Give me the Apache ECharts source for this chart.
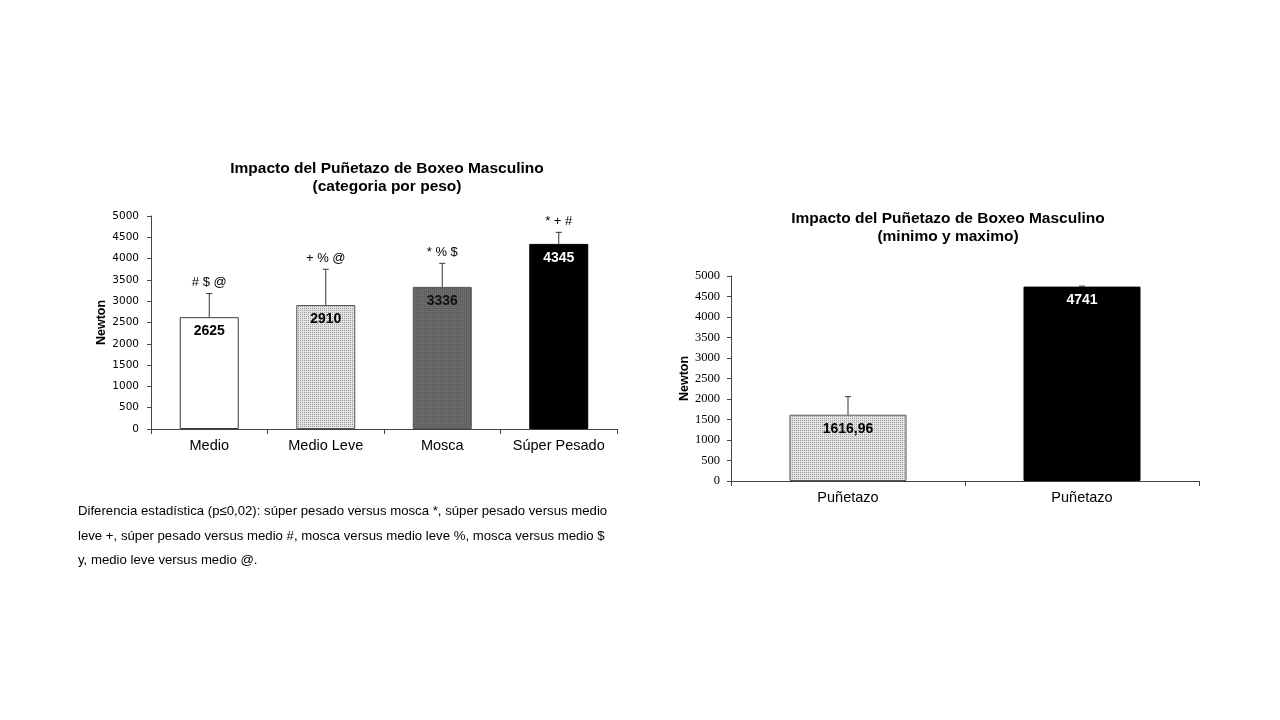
<!DOCTYPE html>
<html><head><meta charset="utf-8">
<script src="https://cdn.jsdelivr.net/npm/echarts@6/dist/echarts.min.js"></script>
<style>html,body{margin:0;padding:0;background:#fff}#c{width:1280px;height:720px}</style>
</head><body><div id="c"></div>
<script>
// ---- data ----
const catsLeft = ['Medio', 'Medio Leve', 'Mosca', 'Súper Pesado'];
const valsLeft = [2625, 2910, 3336, 4345];
const errLeft = [555, 840, 554, 272];
const sigLeft = ['# $ @', '+ % @', '* % $', '* + #'];
const labelsLeft = ['2625', '2910', '3336', '4345'];

const catsRight = ['Puñetazo', 'Puñetazo'];
const valsRight = [1616.96, 4741];
const errRight = [440, 12];
const labelsRight = ['1616,96', '4741'];

const yTicks = [0, 500, 1000, 1500, 2000, 2500, 3000, 3500, 4000, 4500, 5000];

const SANS = '"Liberation Sans", Arial, sans-serif';

function pattern(bg, dot) {
  const c = document.createElement('canvas');
  c.width = 4; c.height = 4;
  const g = c.getContext('2d');
  g.fillStyle = bg; g.fillRect(0, 0, 4, 4);
  g.fillStyle = dot;
  g.fillRect(0, 0, 1, 1); g.fillRect(2, 2, 1, 1);
  g.fillRect(2, 0, 1, 1); g.fillRect(0, 2, 1, 1);
  return { image: c, repeat: 'repeat' };
}
const light = pattern('#e4e4e4', '#9a9a9a');
const dark = pattern('#6b6b6b', '#575757');

const styleLeft = [
  { color: '#ffffff', borderColor: '#3a3a3a', borderWidth: 1 },
  { color: light, borderColor: '#555', borderWidth: 1 },
  { color: dark, borderColor: '#555', borderWidth: 1 },
  { color: '#000000', borderColor: '#000', borderWidth: 1 }
];
const labelColorLeft = ['#000', '#000', '#111', '#fff'];
const styleRight = [
  { color: light, borderColor: '#555', borderWidth: 1 },
  { color: '#000000', borderColor: '#000', borderWidth: 1 }
];
const labelColorRight = ['#000', '#fff'];

function errSeries(xi, vals, errs, sigs) {
  return {
    type: 'custom', xAxisIndex: xi, yAxisIndex: xi, z: 5,
    data: vals.map((v, i) => [i, v, v + errs[i]]),
    renderItem: function (params, api) {
      const i = api.value(0);
      const base = api.coord([i, api.value(1)]);
      const top = api.coord([i, api.value(2)]);
      const children = [
        { type: 'line', shape: { x1: base[0], y1: base[1], x2: top[0], y2: top[1] }, style: { stroke: '#333', lineWidth: 1 } },
        { type: 'line', shape: { x1: top[0] - 3, y1: top[1], x2: top[0] + 3, y2: top[1] }, style: { stroke: '#333', lineWidth: 1 } }
      ];
      if (sigs) {
        children.push({ type: 'text', style: { text: sigs[params.dataIndex], x: top[0], y: top[1] - 11, align: 'center', verticalAlign: 'middle', font: '13px ' + SANS, fill: '#000' } });
      }
      return { type: 'group', children: children };
    }
  };
}

function yAxis(grid, gap, family, size, margin) {
  return {
    gridIndex: grid,
    type: 'value', min: 0, max: 5000, interval: 500,
    name: 'Newton', nameLocation: 'middle', nameRotate: 90, nameGap: gap,
    nameTextStyle: { fontWeight: 'bold', fontSize: 12.5, color: '#000', fontFamily: SANS },
    axisLine: { show: true, lineStyle: { color: '#444' } },
    axisTick: { show: true, length: 4, lineStyle: { color: '#444' } },
    splitLine: { show: false },
    axisLabel: { color: '#000', fontSize: size, margin: margin, fontFamily: family, formatter: v => String(yTicks[yTicks.indexOf(v)]) }
  };
}
function xAxis(grid, data) {
  return {
    gridIndex: grid, type: 'category', data: data,
    axisLine: { lineStyle: { color: '#444' } },
    axisTick: { show: true, interval: 0, length: 5, alignWithLabel: false, lineStyle: { color: '#444' } },
    axisLabel: { color: '#000', fontSize: 14.5, margin: 9, interval: 0, hideOverlap: false, fontFamily: SANS }
  };
}

const option = {
  backgroundColor: '#fff',
  animation: false,
  title: [
    { text: 'Impacto del Puñetazo de Boxeo Masculino\n(categoria por peso)', left: 382, top: 154, textAlign: 'center',
      textStyle: { fontSize: 15.5, fontWeight: 'bold', lineHeight: 18.5, color: '#000', fontFamily: SANS } },
    { text: 'Impacto del Puñetazo de Boxeo Masculino\n(minimo y maximo)', left: 943, top: 204, textAlign: 'center',
      textStyle: { fontSize: 15.5, fontWeight: 'bold', lineHeight: 18.5, color: '#000', fontFamily: SANS } }
  ],
  grid: [
    { left: 151, top: 216, width: 466, height: 213 },
    { left: 731, top: 276, width: 468, height: 205 }
  ],
  xAxis: [xAxis(0, catsLeft), xAxis(1, catsRight)],
  yAxis: [
    yAxis(0, 42, '"DejaVu Sans", Tahoma, sans-serif', 10.5, 12),
    yAxis(1, 40, '"Liberation Serif", "Times New Roman", serif', 12.5, 11)
  ],
  series: [
    {
      type: 'bar', xAxisIndex: 0, yAxisIndex: 0, barWidth: 59,
      data: valsLeft.map((v, i) => ({
        value: v, itemStyle: styleLeft[i],
        label: { show: true, position: 'insideTop', distance: 7, formatter: labelsLeft[i], color: labelColorLeft[i], fontWeight: 'bold', fontSize: 14, fontFamily: SANS }
      }))
    },
    errSeries(0, valsLeft, errLeft, sigLeft),
    {
      type: 'bar', xAxisIndex: 1, yAxisIndex: 1, barWidth: 117,
      data: valsRight.map((v, i) => ({
        value: v, itemStyle: styleRight[i],
        label: { show: true, position: 'insideTop', distance: 7, formatter: labelsRight[i], color: labelColorRight[i], fontWeight: 'bold', fontSize: 14, fontFamily: SANS }
      }))
    },
    errSeries(1, valsRight, errRight, null)
  ],
  graphic: [
    { type: 'text', left: 78, top: 505, style: { text: 'Diferencia estadística (p≤0,02): súper pesado versus mosca *, súper pesado versus medio', font: '13.2px ' + SANS, fill: '#000' } },
    { type: 'text', left: 78, top: 530, style: { text: 'leve +, súper pesado versus medio #, mosca versus medio leve %, mosca versus medio $', font: '13.2px ' + SANS, fill: '#000' } },
    { type: 'text', left: 78, top: 554, style: { text: 'y, medio leve versus medio @.', font: '13.2px ' + SANS, fill: '#000' } }
  ]
};
echarts.init(document.getElementById('c')).setOption(option);
</script>
</body></html>
